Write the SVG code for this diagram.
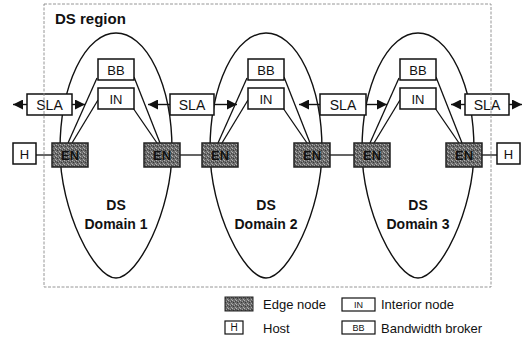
<svg xmlns="http://www.w3.org/2000/svg" width="528" height="339" viewBox="0 0 528 339">
<style>
text{font-family:"Liberation Sans",Arial,sans-serif;fill:#111}
.box{fill:#fff;stroke:#111;stroke-width:1.5}
.en{fill:url(#stip);stroke:#222;stroke-width:1.5}
.lbl{font-size:13px;text-anchor:middle}
.ent{font-size:13px;font-weight:bold;text-anchor:middle;fill:#111}
.dom{fill:none;stroke:#111;stroke-width:1.4}
.ln{stroke:#111;stroke-width:1.3;fill:none}
.arr{stroke:#111;stroke-width:1.4;fill:none;marker-end:url(#ah)}
.dtitle{font-size:14px;font-weight:bold;text-anchor:middle}
.leg{font-size:13px}
.legs{font-size:9px;text-anchor:middle}
</style>
<defs>
<pattern id="stip" width="4" height="4" patternUnits="userSpaceOnUse">
<rect width="4" height="4" fill="#6a6a6a"/>
<rect x="0" y="0" width="1" height="1" fill="#b5b5b5"/>
<rect x="2" y="1" width="1" height="1" fill="#9a9a9a"/>
<rect x="1" y="2" width="1" height="1" fill="#3a3a3a"/>
<rect x="3" y="3" width="1" height="1" fill="#a8a8a8"/>
<rect x="3" y="1" width="1" height="1" fill="#444"/>
</pattern>
<marker id="ah" viewBox="0 0 10 10" refX="10" refY="5" markerWidth="10" markerHeight="10" markerUnits="userSpaceOnUse" orient="auto">
<path d="M0,0 L10,5 L0,10 Z" fill="#111"/>
</marker>
</defs>
<rect width="528" height="339" fill="#fff"/>

<g id="domains">
<path class="dom" d="M60,150 A56,117 0 0 1 172,150 C172,210 138,278 116,278 C94,278 60,210 60,150 Z"/>
<path class="dom" d="M210,150 A56,117 0 0 1 322,150 C322,210 288,278 266,278 C244,278 210,210 210,150 Z"/>
<path class="dom" d="M362,150 A56,117 0 0 1 474,150 C474,210 440,278 418,278 C396,278 362,210 362,150 Z"/>
</g>

<g id="connectors">
<!-- domain 1 -->
<line class="ln" x1="97" y1="78" x2="68" y2="143"/>
<line class="ln" x1="98" y1="100" x2="72" y2="143"/>
<line class="ln" x1="134" y1="77" x2="160" y2="143"/>
<line class="ln" x1="133" y1="108" x2="157" y2="143"/>
<!-- domain 2 -->
<line class="ln" x1="247" y1="78" x2="218" y2="143"/>
<line class="ln" x1="248" y1="100" x2="222" y2="143"/>
<line class="ln" x1="284" y1="77" x2="310" y2="143"/>
<line class="ln" x1="283" y1="108" x2="307" y2="143"/>
<!-- domain 3 -->
<line class="ln" x1="399" y1="78" x2="370" y2="143"/>
<line class="ln" x1="400" y1="100" x2="374" y2="143"/>
<line class="ln" x1="436" y1="77" x2="462" y2="143"/>
<line class="ln" x1="435" y1="108" x2="459" y2="143"/>
<!-- host / EN links -->
<line class="ln" x1="36" y1="155" x2="52" y2="155"/>
<line class="ln" x1="180" y1="155" x2="202" y2="155"/>
<line class="ln" x1="330" y1="155" x2="354" y2="155"/>
<line class="ln" x1="482" y1="155" x2="497" y2="155"/>
<!-- SLA arrows -->
<line class="arr" x1="27" y1="104.5" x2="13" y2="104.5"/>
<line class="arr" x1="72" y1="104.5" x2="85" y2="104.5"/>
<line class="arr" x1="170" y1="104.5" x2="148" y2="104.5"/>
<line class="arr" x1="214" y1="104.5" x2="237" y2="104.5"/>
<line class="arr" x1="320" y1="104.5" x2="299" y2="104.5"/>
<line class="arr" x1="366" y1="104.5" x2="387" y2="104.5"/>
<line class="arr" x1="465" y1="104.5" x2="451" y2="104.5"/>
<line class="arr" x1="509" y1="104.5" x2="522" y2="104.5"/>
</g>

<g id="bb1"><rect class="box" x="98" y="59" width="36" height="21"/><text class="lbl" x="116" y="74.5">BB</text></g>
<g id="in1"><rect class="box" x="98" y="88" width="36" height="21"/><text class="lbl" x="116" y="103.5">IN</text></g>
<g id="bb2"><rect class="box" x="248" y="59" width="36" height="21"/><text class="lbl" x="266" y="74.5">BB</text></g>
<g id="in2"><rect class="box" x="248" y="88" width="36" height="21"/><text class="lbl" x="266" y="103.5">IN</text></g>
<g id="bb3"><rect class="box" x="400" y="59" width="36" height="21"/><text class="lbl" x="418" y="74.5">BB</text></g>
<g id="in3"><rect class="box" x="400" y="88" width="36" height="21"/><text class="lbl" x="418" y="103.5">IN</text></g>

<g id="sla0"><rect class="box" x="27" y="94" width="45" height="21"/><text class="lbl" x="49.5" y="109.5" style="font-size:14px">SLA</text></g>
<g id="sla1"><rect class="box" x="170" y="94" width="44" height="21"/><text class="lbl" x="192" y="109.5" style="font-size:14px">SLA</text></g>
<g id="sla2"><rect class="box" x="320" y="94" width="46" height="21"/><text class="lbl" x="343" y="109.5" style="font-size:14px">SLA</text></g>
<g id="sla3"><rect class="box" x="465" y="94" width="44" height="21"/><text class="lbl" x="487" y="109.5" style="font-size:14px">SLA</text></g>

<g id="h1"><rect class="box" x="13" y="143" width="23" height="21"/><text class="lbl" x="24.5" y="158.5">H</text></g>
<g id="h2"><rect class="box" x="497" y="143" width="23" height="21"/><text class="lbl" x="508.5" y="158.5">H</text></g>

<g id="en1a"><rect class="en" x="52" y="143" width="36" height="24"/><text class="ent" x="70" y="160">EN</text></g>
<g id="en1b"><rect class="en" x="144" y="143" width="36" height="24"/><text class="ent" x="162" y="160">EN</text></g>
<g id="en2a"><rect class="en" x="202" y="143" width="36" height="24"/><text class="ent" x="220" y="160">EN</text></g>
<g id="en2b"><rect class="en" x="294" y="143" width="36" height="24"/><text class="ent" x="312" y="160">EN</text></g>
<g id="en3a"><rect class="en" x="354" y="143" width="36" height="24"/><text class="ent" x="372" y="160">EN</text></g>
<g id="en3b"><rect class="en" x="446" y="143" width="36" height="24"/><text class="ent" x="464" y="160">EN</text></g>

<g id="labels">
<text class="dtitle" x="116" y="210">DS</text>
<text class="dtitle" x="116" y="229">Domain 1</text>
<text class="dtitle" x="266" y="210">DS</text>
<text class="dtitle" x="266" y="229">Domain 2</text>
<text class="dtitle" x="418" y="210">DS</text>
<text class="dtitle" x="418" y="229">Domain 3</text>
</g>

<g id="region">
<rect x="44" y="4" width="447" height="283" fill="none" stroke="#8a8a8a" stroke-width="0.9" stroke-dasharray="3 1.5"/>
<text x="55" y="24" style="font-size:15px;font-weight:bold">DS region</text>
</g>

<g id="legend">
<rect class="en" x="225" y="297" width="28" height="14" style="stroke-width:1"/>
<text class="leg" x="263" y="309">Edge node</text>
<rect class="box" x="225" y="321" width="18" height="13" style="stroke-width:1.2"/>
<text class="legs" x="234" y="331" style="font-size:10px">H</text>
<text class="leg" x="263" y="333">Host</text>
<rect class="box" x="342" y="298" width="33" height="13" style="stroke-width:1.2"/>
<text class="legs" x="358.5" y="308">IN</text>
<text class="leg" x="381" y="309">Interior node</text>
<rect class="box" x="342" y="321" width="33" height="13" style="stroke-width:1.2"/>
<text class="legs" x="358.5" y="331">BB</text>
<text class="leg" x="381" y="333">Bandwidth broker</text>
</g>
</svg>
